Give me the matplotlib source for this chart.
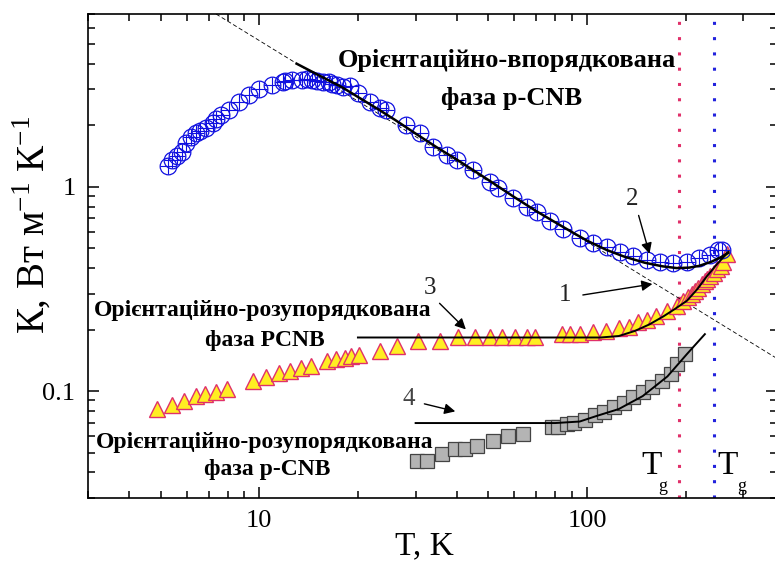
import matplotlib
matplotlib.use('Agg')
import matplotlib.pyplot as plt
from matplotlib.ticker import LogLocator, NullFormatter, FixedLocator, FixedFormatter

plt.rcParams['font.family'] = ['Liberation Serif', 'DejaVu Serif']
plt.rcParams['mathtext.fontset'] = 'custom'
plt.rcParams['mathtext.rm'] = 'Liberation Serif'

# curve 2: orientationally ordered p-CNB (circles)
t_circ = [5.27, 5.42, 5.6, 5.82, 5.98, 6.2, 6.42, 6.6, 6.89, 7.2, 7.4, 7.65, 8.1, 8.69,
          9.3, 10.0, 10.9, 11.8, 12.0, 12.6, 13.5, 14.0, 14.5, 15.0, 15.6, 16.3, 16.7,
          17.3, 18.0, 18.9, 20.0, 21.7, 23.3, 24.4, 28.0, 30.9, 33.8, 37.3, 40.0, 44.8,
          50.6, 53.5, 59.5, 65.5, 70.3, 77.0, 84.5, 95.2, 104, 115, 126, 138, 152, 167,
          183, 202, 220, 238, 252, 259]
k_circ = [1.27, 1.35, 1.42, 1.48, 1.64, 1.75, 1.83, 1.88, 1.94, 2.05, 2.15, 2.24, 2.37, 2.6,
          2.81, 3.0, 3.14, 3.25, 3.28, 3.33, 3.33, 3.35, 3.33, 3.3, 3.25, 3.25, 3.2,
          3.15, 3.07, 3.1, 2.87, 2.6, 2.43, 2.37, 2.0, 1.83, 1.57, 1.43, 1.35, 1.21,
          1.06, 0.99, 0.88, 0.80, 0.75, 0.68, 0.62, 0.56, 0.53, 0.51, 0.48, 0.46, 0.44, 0.43,
          0.425, 0.43, 0.45, 0.466, 0.49, 0.49]

# curve 3: orientationally disordered PCNB (triangles)
t_tri = [4.88, 5.42, 5.90, 6.42, 6.84, 7.38, 7.98, 9.6, 10.5, 11.5, 12.4, 13.4, 14.4, 16.1,
         17.2, 18.2, 19.1, 20.2, 23.3, 26.4, 30.4, 35.5, 40.4, 45.5, 50.5, 55, 60.3, 65.5,
         69.4, 84, 88.8, 95.3, 104, 114, 125, 134, 143, 152, 163, 175, 188, 196, 204, 209,
         214, 218, 224, 229, 233, 238, 244, 250, 256, 261, 268]
k_tri = [0.0817, 0.0855, 0.089, 0.095, 0.097, 0.099, 0.102, 0.112, 0.117, 0.122, 0.126, 0.13,
         0.133, 0.14, 0.143, 0.146, 0.148, 0.15, 0.158, 0.166, 0.175, 0.175, 0.183, 0.183,
         0.185, 0.185, 0.185, 0.185, 0.183, 0.19, 0.19, 0.19, 0.194, 0.196, 0.203, 0.207,
         0.217, 0.224, 0.232, 0.246, 0.26, 0.275, 0.29, 0.30, 0.31, 0.32, 0.335, 0.344, 0.355,
         0.364, 0.38, 0.394, 0.41, 0.43, 0.47]

# curve 4: orientationally disordered p-CNB (squares)
t_sq = [30.2, 32.4, 36.0, 39.5, 42.4, 46.1, 51.7, 57.5, 63.7, 78, 81.3, 86.7, 91.6, 98.3,
        106, 113, 121, 130, 138, 148, 158, 170, 180, 188, 199]
k_sq = [0.0456, 0.0456, 0.049, 0.052, 0.052, 0.054, 0.057, 0.06, 0.062, 0.067, 0.067, 0.069,
        0.07, 0.072, 0.076, 0.079, 0.084, 0.087, 0.094, 0.099, 0.105, 0.112, 0.121, 0.135, 0.152]

# fitted curves
t_fit2 = [13, 15, 18, 20, 23, 26, 30, 35, 40, 50, 60, 70, 80, 90, 100, 115, 130, 150, 170,
          188, 205, 220, 240, 255, 270]
k_fit2 = [4.0, 3.55, 3.05, 2.75, 2.4, 2.12, 1.82, 1.55, 1.36, 1.08, 0.89, 0.76, 0.67, 0.6,
          0.545, 0.49, 0.455, 0.425, 0.408, 0.40, 0.402, 0.41, 0.43, 0.45, 0.475]
t_fit1 = [20, 110, 125, 140, 155, 171, 186, 202, 217, 232, 250, 270]
k_fit1 = [0.183, 0.183, 0.186, 0.197, 0.212, 0.232, 0.253, 0.277, 0.315, 0.364, 0.42, 0.48]
t_fit4 = [30, 80, 95, 107, 125, 148, 176, 202, 229]
k_fit4 = [0.0698, 0.0698, 0.071, 0.0756, 0.0817, 0.0946, 0.118, 0.152, 0.19]

# 1/T guide line
t_guide = [7.38, 376]
k_guide = [7.0, 0.146]

tg_pcnb = 191
tg_pcnb2 = 244

fig = plt.figure(figsize=(7.75, 5.61), dpi=100)
ax = fig.add_axes([0.1135, 0.1123, 0.889, 0.8627])
ax.set_xscale('log')
ax.set_yscale('log')
ax.set_xlim(3, 380)
ax.set_ylim(0.03, 7)

ax.plot(t_guide, k_guide, color='black', lw=0.6, dashes=(5, 3), zorder=2)
ax.axvline(tg_pcnb, color='#e0306a', lw=2.2, linestyle=(0, (1, 4)), zorder=1)
ax.axvline(tg_pcnb2, color='#2222dd', lw=2.2, linestyle=(0, (1, 4)), zorder=1)

ax.plot(t_sq, k_sq, ls='none', marker='s', ms=10, mfc='#b4b4b4', mec='#444444', mew=0.9, zorder=3)
ax.plot(t_tri, k_tri, ls='none', marker='^', ms=11, mfc='#ffee22', mec='#e0306a', mew=1.0, zorder=3)
ax.plot(t_circ, k_circ, ls='none', marker='o', ms=12, mfc='none', mec='#1010e0', mew=0.9, zorder=4)
ax.plot(t_circ, k_circ, ls='none', marker='+', ms=12, mec='#1010e0', mew=0.8, zorder=4)

ax.plot(t_fit2, k_fit2, color='black', lw=1.8, zorder=5)
ax.plot(t_fit1, k_fit1, color='black', lw=1.4, zorder=5)
ax.plot(t_fit4, k_fit4, color='black', lw=1.4, zorder=5)

arrow = dict(arrowstyle='-|>', color='black', lw=1.0, mutation_scale=16)
ax.annotate('', xy=(156, 0.456), xytext=(143, 0.746), arrowprops=arrow, zorder=6)
ax.text(137, 0.87, '2', fontsize=18, ha='center', va='center', color='#222222')
ax.annotate('', xy=(161.5, 0.336), xytext=(95.3, 0.294), arrowprops=arrow, zorder=6)
ax.text(85.7, 0.297, '1', fontsize=18, ha='center', va='center', color='#222222')
ax.annotate('', xy=(43.3, 0.196), xytext=(35.0, 0.275), arrowprops=arrow, zorder=6)
ax.text(33.1, 0.318, '3', fontsize=18, ha='center', va='center', color='#222222')
ax.annotate('', xy=(40.4, 0.079), xytext=(31.3, 0.0873), arrowprops=arrow, zorder=6)
ax.text(28.6, 0.0914, '4', fontsize=18, ha='center', va='center', color='#444444')

bold = dict(fontweight='bold', ha='center', va='center', transform=ax.transAxes)
ax.text(0.608, 0.905, 'Орієнтаційно-впорядкована', fontsize=19, **bold)
ax.text(0.615, 0.826, 'фаза p-CNB', fontsize=19, **bold)
ax.text(0.254, 0.388, 'Орієнтаційно-розупорядкована', fontsize=17, **bold)
ax.text(0.257, 0.326, 'фаза PCNB', fontsize=17, **bold)
ax.text(0.257, 0.114, 'Орієнтаційно-розупорядкована', fontsize=17, **bold)
ax.text(0.260, 0.058, 'фаза p-CNB', fontsize=17, **bold)

ax.text(0.818, 0.066, 'T', fontsize=24, ha='center', va='center', transform=ax.transAxes)
ax.text(0.834, 0.023, 'g', fontsize=13, ha='center', va='center', transform=ax.transAxes)
ax.text(0.929, 0.066, 'T', fontsize=24, ha='center', va='center', transform=ax.transAxes)
ax.text(0.949, 0.023, 'g', fontsize=13, ha='center', va='center', transform=ax.transAxes)

ax.xaxis.set_major_locator(FixedLocator([10, 100]))
ax.xaxis.set_major_formatter(FixedFormatter(['10', '100']))
ax.xaxis.set_minor_locator(LogLocator(base=10, subs=range(2, 10), numticks=20))
ax.xaxis.set_minor_formatter(NullFormatter())
ax.yaxis.set_major_locator(FixedLocator([0.1, 1]))
ax.yaxis.set_major_formatter(FixedFormatter(['0.1', '1']))
ax.yaxis.set_minor_locator(LogLocator(base=10, subs=range(2, 10), numticks=20))
ax.yaxis.set_minor_formatter(NullFormatter())

ax.tick_params(which='both', direction='in', top=True, right=True, width=1.1, labelsize=19)
ax.tick_params(which='major', length=8)
ax.tick_params(which='minor', length=5)
ax.tick_params(axis='x', pad=9)
ax.tick_params(axis='y', pad=9)
for s in ax.spines.values():
    s.set_linewidth(1.2)

ax.set_xlabel('T, K', fontsize=24)
ax.xaxis.set_label_coords(0.488, -0.068)
ax.set_ylabel(r'К, Вт м$^{\mathregular{-1}}$ К$^{\mathregular{-1}}$', fontsize=28)
ax.yaxis.set_label_coords(-0.05, 0.565)

fig.savefig('out.png', dpi=100)
